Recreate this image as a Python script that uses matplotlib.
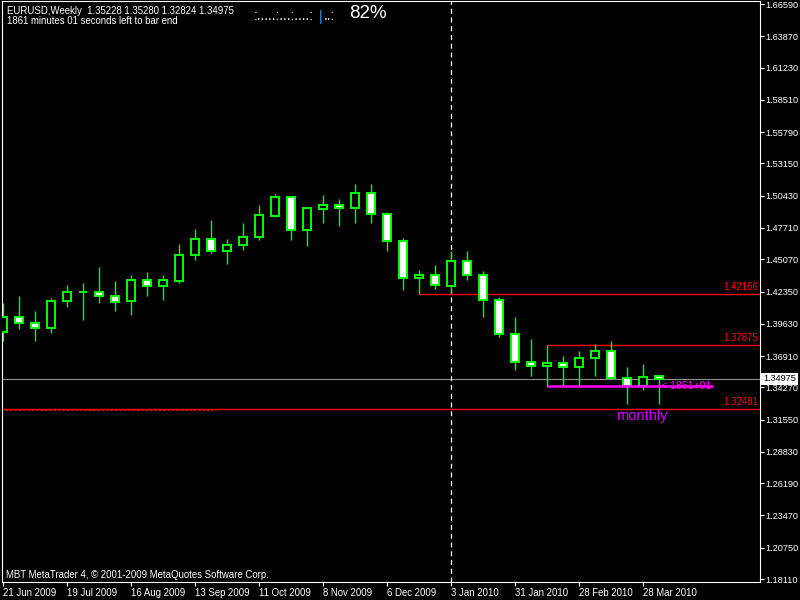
import matplotlib
matplotlib.use("Agg")
import matplotlib.pyplot as plt
import matplotlib.transforms as mtransforms

plt.rcParams['font.family'] = ['Liberation Sans', 'DejaVu Sans']

# weekly EURUSD bars, bar 0 is the week of 21 Jun 2009
opens = [1.3894, 1.4018, 1.3967, 1.3925, 1.4153, 1.4228, 1.4228, 1.4195, 1.4153, 1.4330,
         1.4279, 1.4326, 1.4540, 1.4675, 1.4574, 1.4625, 1.4697, 1.4874, 1.5029, 1.4751,
         1.4928, 1.4962, 1.4937, 1.5063, 1.4886, 1.4658, 1.4346, 1.4372, 1.4279, 1.4490,
         1.4372, 1.4161, 1.3874, 1.3638, 1.3605, 1.3630, 1.3596, 1.3672, 1.3733, 1.3503,
         1.3436, 1.35228]
highs = [1.4138, 1.4197, 1.4071, 1.4180, 1.4290, 1.4307, 1.4442, 1.4324, 1.4374, 1.4400,
         1.4374, 1.4636, 1.4762, 1.4838, 1.4678, 1.4813, 1.4964, 1.5057, 1.5040, 1.4937,
         1.5049, 1.5015, 1.5141, 1.5141, 1.4903, 1.4684, 1.4414, 1.4456, 1.4577, 1.4574,
         1.4405, 1.4186, 1.4018, 1.3835, 1.37875, 1.3691, 1.3733, 1.3792, 1.3816, 1.3601,
         1.3624, 1.35280]
lows = [1.3818, 1.3922, 1.3820, 1.3888, 1.4107, 1.3997, 1.4141, 1.4073, 1.4040, 1.4200,
        1.4166, 1.4309, 1.4503, 1.4562, 1.4470, 1.4588, 1.4672, 1.4866, 1.4672, 1.4621,
        1.4815, 1.4790, 1.4815, 1.4815, 1.4579, 1.4250, 1.42166, 1.4254, 1.4222, 1.4330,
        1.4023, 1.3849, 1.3573, 1.3523, 1.3433, 1.3438, 1.3433, 1.3525, 1.3500, 1.3289,
        1.3407, 1.32824]
closes = [1.4020, 1.3967, 1.3925, 1.4153, 1.4228, 1.4229, 1.4195, 1.4144, 1.4330, 1.4279,
          1.4330, 1.4540, 1.4675, 1.4574, 1.4625, 1.4692, 1.4878, 1.5029, 1.4751, 1.4937,
          1.4962, 1.4937, 1.5063, 1.4886, 1.4658, 1.4346, 1.4372, 1.4287, 1.4490, 1.4372,
          1.4161, 1.3874, 1.3641, 1.3605, 1.3630, 1.3596, 1.3672, 1.3733, 1.3503, 1.3436,
          1.3512, 1.34975]

date_ticks = [0, 4, 8, 12, 16, 20, 24, 28, 32, 36, 40]
date_labels = ['21 Jun 2009', '19 Jul 2009', '16 Aug 2009', '13 Sep 2009', '11 Oct 2009',
               '8 Nov 2009', '6 Dec 2009', '3 Jan 2010', '31 Jan 2010', '28 Feb 2010',
               '28 Mar 2010']

price_labels = ['1.66590', '1.63870', '1.61230', '1.58510', '1.55790', '1.53150', '1.50430',
                '1.47710', '1.45070', '1.42350', '1.39630', '1.36910', '1.34270', '1.31550',
                '1.28830', '1.26190', '1.23470', '1.20750', '1.18110']
price_ticks = [float(s) for s in price_labels]

bid = 1.34975
red_levels = [1.42166, 1.37875, 1.32481]
red_starts = [26, 34, -0.1]
range_low = 1.3435
range_start = 34
range_end = 44.4

GREEN = '#00ff00'

fig = plt.figure(figsize=(8, 6), dpi=100, facecolor='black')
ax = fig.add_axes([2 / 800, 18 / 600, 758 / 800, 581 / 600])
ax.set_facecolor('black')

x = list(range(len(opens)))
fills = ['black' if c > o else 'white' for o, c in zip(opens, closes)]
heights = [c - o for o, c in zip(opens, closes)]

ax.vlines(x, lows, highs, color=GREEN, lw=1.0, zorder=2)
ax.bar(x, heights, bottom=opens, width=0.56, color=fills, edgecolor=GREEN,
       linewidth=1.4, zorder=3)

# price levels
ax.axhline(bid, color='#909090', lw=0.8, zorder=1)
for lvl, start in zip(red_levels, red_starts):
    ax.hlines(lvl, start, 48, color='#ff0000', lw=1.0, zorder=1)
ax.hlines(red_levels[2] - 0.0012, -0.1, 13.3, color='#ff0000', lw=0.9,
          linestyles=(0, (1.5, 2)), zorder=1)
ax.hlines(range_low, range_start, range_end, color='#ff00ff', lw=1.8, zorder=4)
ax.axvline(28, color='white', lw=0.9, ls=(0, (4, 3)), zorder=1)

trans = mtransforms.blended_transform_factory(ax.transAxes, ax.transData)
for lvl in red_levels:
    ax.annotate('%.5f' % lvl, xy=(0.997, lvl), xycoords=trans, xytext=(0, 1.2),
                textcoords='offset points', ha='right', va='bottom',
                color='#ff0000', fontsize=6.9)

ax.text(41.1, range_low, '< 1861+01', color='#ff00ff', fontsize=7.6, va='center',
        ha='left', zorder=5)
ax.text(39.9, 1.3185, 'monthly', color='#d000ff', fontsize=10.5, va='center', ha='center')

ax.text(1.0 + 3 / 758, bid, '1.34975', transform=trans, ha='left', va='center',
        color='black', fontsize=6.6, clip_on=False,
        bbox=dict(facecolor='white', edgecolor='none', pad=1.2), zorder=6)

ax.set_xlim(-0.0625, 47.3125)
ax.set_ylim(1.17859, 1.66843)

ax.yaxis.tick_right()
ax.set_yticks(price_ticks)
ax.set_yticklabels(price_labels)
ax.set_xticks(date_ticks)
ax.set_xticklabels(date_labels)
for lab in ax.get_xticklabels():
    lab.set_horizontalalignment('left')
ax.tick_params(axis='y', colors='white', labelsize=6.6, length=2.8, width=0.8, pad=1.2)
ax.tick_params(axis='x', colors='white', labelsize=6.9, length=2.8, width=0.8, pad=1.2)
for sp in ax.spines.values():
    sp.set_color('white')
    sp.set_linewidth(0.8)

# header texts
fig.text(7 / 800, 1 - 11 / 600, 'EURUSD,Weekly  1.35228 1.35280 1.32824 1.34975',
         color='white', fontsize=6.9, va='center')
fig.text(7 / 800, 1 - 21 / 600, '1861 minutes 01 seconds left to bar end',
         color='white', fontsize=6.9, va='center')
fig.text(254 / 800, 1 - 20 / 600, ':.....:...:....:', color='white', fontsize=10,
         va='baseline')
fig.text(319 / 800, 1 - 21 / 600, '|', color='#3399ff', fontsize=10.5, va='baseline')
fig.text(324 / 800, 1 - 20 / 600, '..:', color='white', fontsize=10, va='baseline')
fig.text(349 / 800, 1 - 13 / 600, '82%', color='white', fontsize=13.5, va='center')
fig.text(6 / 800, 1 - 575 / 600, 'MBT MetaTrader 4, \u00a9 2001-2009 MetaQuotes Software Corp.',
         color='white', fontsize=6.9, va='center')

fig.savefig('out.png', dpi=100, facecolor='black')
